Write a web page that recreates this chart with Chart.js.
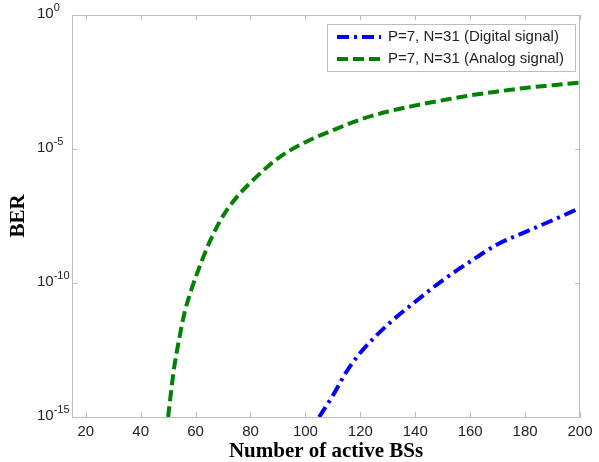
<!DOCTYPE html>
<html><head><meta charset="utf-8">
<script src="https://cdn.jsdelivr.net/npm/chart.js@4.4.1/dist/chart.umd.min.js"></script>
<style>html,body{margin:0;padding:0;background:#fff}#wrap{width:599px;height:462px}</style>
</head><body><div id="wrap"><canvas id="c" width="599" height="462"></canvas></div>
<script>
// ---- data ----
const digitalLabel = 'P=7, N=31 (Digital signal)';
const analogLabel = 'P=7, N=31 (Analog signal)';
const digitalX = [105, 110, 115, 120, 130, 140, 150, 160, 170, 180, 190, 200];
const digitalBER = [1e-15, 6.3e-15, 5.0e-14, 2.5e-13, 2.8e-12, 2.0e-11, 1.26e-10, 6.3e-10, 2.8e-9, 7.9e-9, 2.2e-8, 6.3e-8];
const analogX = [50, 52, 54, 56, 58, 60, 65, 70, 75, 80, 90, 100, 110, 120, 130, 140, 150, 160, 170, 180, 190, 200];
const analogBER = [1e-15, 5.0e-14, 7.9e-13, 7.9e-12, 4.0e-11, 1.6e-10, 3.2e-9, 3.2e-8, 1.6e-7, 5.6e-7, 4.5e-6, 1.8e-5, 5.0e-5, 1.26e-4, 2.5e-4, 4.2e-4, 6.6e-4, 1.0e-3, 1.4e-3, 1.9e-3, 2.4e-3, 3.0e-3];
const xTicks = [20, 40, 60, 80, 100, 120, 140, 160, 180, 200];
const yTicks = [1, 1e-5, 1e-10, 1e-15];
const yTickBase = '10';
const yTickExp = ['0', '-5', '-10', '-15'];
const xTitle = 'Number of active BSs';
const yTitle = 'BER';

const SANS = '"Liberation Sans", Arial, sans-serif';
const SERIF = '"Liberation Serif", "Times New Roman", serif';
const AXIS_COL = '#bdbdbd';

const toPts = (xs, ys) => xs.map((x, i) => ({x: x, y: ys[i]}));

const decorPlugin = {
  id: 'decor',
  afterDraw(chart) {
    const ctx = chart.ctx;
    const a = chart.chartArea;
    const xs = chart.scales.x, ys = chart.scales.y;
    ctx.save();
    // box top and right
    ctx.strokeStyle = AXIS_COL;
    ctx.lineWidth = 1;
    ctx.beginPath();
    ctx.moveTo(a.left, a.top + 0.5); ctx.lineTo(a.right, a.top + 0.5);
    ctx.moveTo(a.right - 0.5, a.top); ctx.lineTo(a.right - 0.5, a.bottom);
    ctx.stroke();
    // inward ticks
    ctx.beginPath();
    xTicks.forEach(v => {
      const px = Math.round(xs.getPixelForValue(v)) + 0.5;
      ctx.moveTo(px, a.bottom); ctx.lineTo(px, a.bottom - 5);
      ctx.moveTo(px, a.top); ctx.lineTo(px, a.top + 5);
    });
    yTicks.forEach(v => {
      const py = Math.round(ys.getPixelForValue(v)) + 0.5;
      ctx.moveTo(a.left, py); ctx.lineTo(a.left + 5, py);
      ctx.moveTo(a.right, py); ctx.lineTo(a.right - 5, py);
    });
    ctx.stroke();
    // y tick labels with superscripts
    ctx.fillStyle = '#222';
    yTicks.forEach((v, i) => {
      const py = ys.getPixelForValue(v);
      ctx.font = '15px ' + SANS;
      ctx.textAlign = 'left';
      ctx.textBaseline = 'middle';
      const x0 = 37;
      ctx.fillText(yTickBase, x0, py - 1);
      const w = ctx.measureText(yTickBase).width;
      ctx.font = '11px ' + SANS;
      ctx.textBaseline = 'alphabetic';
      ctx.fillText(yTickExp[i], x0 + w, py - 4);
    });
    // legend
    const lx = 327, ly = 24, lw = 248, lh = 47;
    ctx.fillStyle = '#fff';
    ctx.fillRect(lx, ly, lw, lh);
    ctx.strokeStyle = AXIS_COL;
    ctx.strokeRect(lx + 0.5, ly + 0.5, lw, lh);
    chart.data.datasets.forEach((ds, i) => {
      const ry = ly + 13 + i * 22;
      ctx.save();
      ctx.strokeStyle = ds.borderColor;
      ctx.lineWidth = ds.borderWidth;
      ctx.setLineDash(ds.borderDash);
      ctx.beginPath();
      ctx.moveTo(337, ry); ctx.lineTo(381, ry);
      ctx.stroke();
      ctx.restore();
      ctx.fillStyle = '#222';
      ctx.font = '15px ' + SANS;
      ctx.textAlign = 'left';
      ctx.textBaseline = 'middle';
      ctx.fillText(ds.label, 388, ry);
    });
    ctx.restore();
  }
};

new Chart(document.getElementById('c'), {
  type: 'line',
  data: {
    datasets: [
      {label: digitalLabel, data: toPts(digitalX, digitalBER), borderColor: '#0000ff', borderWidth: 4,
       borderDash: [12, 5, 3, 5], pointRadius: 0, fill: false, cubicInterpolationMode: 'monotone'},
      {label: analogLabel, data: toPts(analogX, analogBER), borderColor: '#008000', borderWidth: 4,
       borderDash: [11, 5], pointRadius: 0, fill: false, cubicInterpolationMode: 'monotone'}
    ]
  },
  options: {
    responsive: false,
    animation: false,
    devicePixelRatio: 1,
    layout: {padding: {top: 15, right: 19, left: 0, bottom: 0}},
    plugins: {legend: {display: false}, tooltip: {enabled: false}},
    scales: {
      x: {
        type: 'linear', min: 15, max: 200,
        afterBuildTicks: s => { s.ticks = xTicks.map(v => ({value: v})); },
        afterFit: s => { s.height = 45; },
        grid: {display: true, drawOnChartArea: false, drawTicks: false},
        border: {display: true, color: AXIS_COL},
        ticks: {font: {family: SANS, size: 15}, color: '#222', padding: 6, maxRotation: 0, autoSkip: false},
        title: {display: true, text: xTitle, color: '#000', font: {family: SERIF, size: 21, weight: 'bold', lineHeight: 1}, padding: {top: 0, bottom: 0}}
      },
      y: {
        type: 'logarithmic', min: 1e-15, max: 1,
        afterBuildTicks: s => { s.ticks = yTicks.map(v => ({value: v})); },
        afterFit: s => { s.width = 72; },
        grid: {display: true, drawOnChartArea: false, drawTicks: false},
        border: {display: true, color: AXIS_COL},
        ticks: {callback: () => '', padding: 0},
        title: {display: true, text: yTitle, color: '#000', font: {family: SERIF, size: 21, weight: 'bold', lineHeight: 1}, padding: {top: 8, bottom: 0}}
      }
    }
  },
  plugins: [decorPlugin]
});
</script>
</body></html>
